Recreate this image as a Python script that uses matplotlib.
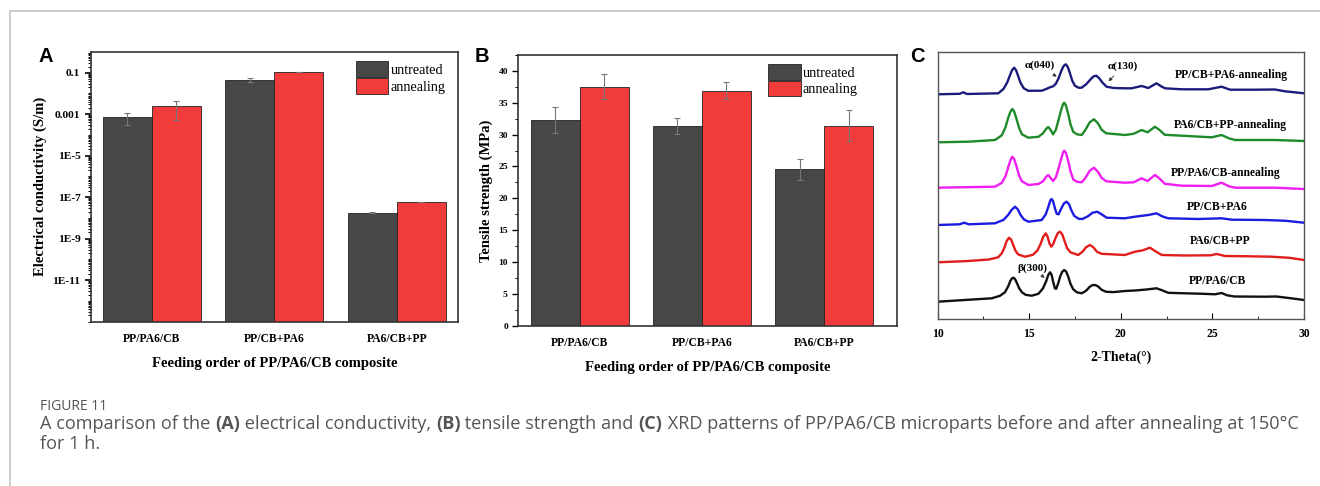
import numpy as np
import matplotlib
matplotlib.use("Agg")
import matplotlib.pyplot as plt
from matplotlib.lines import Line2D
from matplotlib.ticker import FixedLocator, MultipleLocator, NullFormatter

plt.rcParams['font.family'] = ['Liberation Serif', 'DejaVu Serif']

# ---- data ----
groups = ['PP/PA6/CB', 'PP/CB+PA6', 'PA6/CB+PP']
series = ['untreated', 'annealing']

cond_untreated = [7.0e-4, 0.047, 1.8e-8]
cond_annealing = [2.5e-3, 0.107, 5.8e-8]
cond_err_untreated = [4.0e-4, 0.010, 1.0e-9]
cond_err_annealing = [2.0e-3, 0.003, 1.5e-9]

ts_untreated = [32.3, 31.35, 24.55]
ts_annealing = [37.55, 36.9, 31.4]
ts_err_untreated = [2.0, 1.3, 1.7]
ts_err_annealing = [2.0, 1.3, 2.4]

# XRD patterns, stacked (a.u.)
xrd_names = ['PP/PA6/CB', 'PA6/CB+PP', 'PP/CB+PA6',
             'PP/PA6/CB-annealing', 'PA6/CB+PP-annealing', 'PP/CB+PA6-annealing']

xrd_black_x = [10, 12.95, 13.4, 13.67, 13.85, 13.97, 14.05, 14.13, 14.22, 14.32, 14.45, 14.6, 14.8,
               15.13, 15.5, 15.75, 15.92, 16.03, 16.13, 16.22, 16.31, 16.4, 16.47, 16.58, 16.7,
               16.8, 16.91, 17.02, 17.13, 17.25, 17.4, 17.6, 17.86, 18.1, 18.3, 18.45, 18.59,
               18.75, 18.95, 19.2, 19.6, 20.22, 20.77, 21.4, 21.95, 22.25, 22.59, 23.5, 24.5,
               25.14, 25.5, 25.8, 26.2, 27.87, 28.5, 29.3, 30]
xrd_black_y = [17.6, 21, 23.5, 27, 33, 38.5, 40.8, 41.6, 40.3, 36.5, 31, 27, 24.5,
               23.6, 25.5, 31, 38, 44, 47, 44.5, 37, 31, 30.5, 36, 43.5,
               47.5, 49.3, 47.5, 42.5, 35.5, 30, 27, 26, 28.5, 32.5, 34.2, 34.3,
               33, 29.5, 27.5, 27.2, 28.3, 28.8, 29.8, 31, 29, 26.5, 26, 25.5,
               25, 26.3, 24, 22.8, 22.6, 22.8, 21, 19.3]

xrd_red_x = [10, 11.67, 12.8, 13.3, 13.5, 13.65, 13.76, 13.89, 14.0, 14.12, 14.25, 14.4, 14.77,
             15.2, 15.45, 15.62, 15.76, 15.9, 16.0, 16.1, 16.2, 16.3, 16.45, 16.57, 16.68,
             16.8, 16.93, 17.07, 17.25, 17.67, 17.9, 18.1, 18.31, 18.5, 18.7, 18.95, 20.22,
             20.77, 21.2, 21.59, 21.85, 22.23, 23.5, 24.9, 25.23, 25.68, 27, 28.23, 29.2, 30]
xrd_red_y = [57, 58.3, 59.8, 62, 66, 72, 78, 81.6, 80, 74.5, 68.5, 64.8, 62.6,
             64.5, 69, 75.5, 82.5, 86, 82.5, 76, 72.6, 75, 82, 86.5, 87.6,
             85, 78, 71, 67, 64.3, 67.5, 72, 74.3, 72, 67.5, 65.5, 64.3,
             67.6, 69, 71.6, 68.5, 64.3, 63.8, 64, 65.3, 63.3, 63, 62.6, 61.5, 59.3]

xrd_blue_x = [10, 11.2, 11.45, 11.7, 13.13, 13.6, 13.85, 14.04, 14.22, 14.37, 14.52, 14.7, 14.95,
              15.68, 15.9, 16.05, 16.15, 16.22, 16.3, 16.4, 16.5, 16.6, 16.75, 16.9, 17.04,
              17.17, 17.3, 17.45, 17.7, 17.9, 18.2, 18.45, 18.71, 18.95, 19.22, 20.22, 20.77,
              21.5, 21.95, 22.25, 22.59, 24.23, 25.5, 26.05, 27.87, 29, 30]
xrd_blue_y = [94.3, 95, 96.6, 95, 96, 99.5, 104.5, 109.5, 112.6, 110, 104.5, 100, 97.6,
              99.3, 105, 113, 119, 120.3, 118, 111, 105.5, 105, 111, 116, 117.6,
              115, 109, 103.5, 100.5, 100.3, 103, 106.5, 107.6, 105, 101.6, 101, 102.6,
              104.3, 106, 103, 101, 100.3, 101, 99.6, 99.3, 98.5, 96.6]

xrd_magenta_x = [10, 13.13, 13.5, 13.7, 13.85, 13.97, 14.07, 14.17, 14.3, 14.45, 14.6, 14.95, 15.5,
                 15.75, 15.92, 16.04, 16.16, 16.3, 16.45, 16.6, 16.75, 16.85, 16.91, 17.0, 17.13,
                 17.25, 17.4, 17.6, 17.86, 18.05, 18.3, 18.53, 18.75, 18.95, 19.2, 20.22, 20.7,
                 21.13, 21.46, 21.86, 22.1, 22.4, 23.32, 24.96, 25.5, 25.9, 26.23, 28.41, 30]
xrd_magenta_y = [131.6, 132.6, 136.5, 143, 152, 159, 162.6, 160.5, 153, 143.5, 138, 134.3, 135.3,
                 138, 142.5, 144.3, 141.5, 138.3, 142, 151, 161, 167, 168.6, 166.5, 158,
                 148, 140, 137.5, 137, 141, 148.5, 151.6, 147.5, 141.5, 138, 136.6, 137,
                 141, 138.3, 144.3, 141, 135.5, 133.6, 133.3, 136.6, 133, 131.6, 131.6, 130.3]

xrd_green_x = [10, 11.67, 13.13, 13.5, 13.7, 13.85, 13.97, 14.07, 14.17, 14.3, 14.45, 14.6, 14.95,
               15.5, 15.75, 15.92, 16.04, 16.16, 16.3, 16.45, 16.6, 16.75, 16.85, 16.91, 17.0,
               17.13, 17.25, 17.4, 17.6, 17.86, 18.05, 18.3, 18.53, 18.75, 18.95, 19.2, 20.22,
               20.7, 21.13, 21.46, 21.86, 22.1, 22.4, 23.32, 24.96, 25.5, 25.9, 26.23, 28.41, 30]
xrd_green_y = [177, 177.6, 179.3, 184, 192, 201.5, 207.5, 210.3, 208, 200.5, 191, 185, 181.6,
               182.5, 186, 190.5, 192.3, 189.5, 185, 189.5, 199.5, 210, 215.5, 216.6, 214,
               205, 195, 187.5, 185, 184.3, 189, 197, 200, 196, 189.5, 186, 184.3,
               185.5, 189.3, 187, 192.6, 189.5, 184.5, 183.6, 182, 184.3, 181, 179.3, 179.3, 178.3]

xrd_navy_x = [10, 11.2, 11.4, 11.6, 13.31, 13.6, 13.8, 13.95, 14.07, 14.18, 14.28, 14.4, 14.52,
              14.7, 14.95, 15.68, 15.95, 16.13, 16.3, 16.45, 16.6, 16.75, 16.88, 16.99, 17.1,
              17.22, 17.35, 17.49, 17.7, 17.86, 18.1, 18.35, 18.5, 18.66, 18.82, 18.98, 19.22,
              19.6, 20.22, 20.59, 21.13, 21.5, 21.95, 22.2, 22.41, 23.32, 24.77, 25.5, 25.96,
              27.32, 28.41, 28.96, 30]
xrd_navy_y = [225, 225.5, 227, 225.3, 226, 230.5, 237, 244.3, 249.5, 251.6, 249, 243, 236.5,
              231, 228.5, 228.6, 230.5, 232, 233, 235.5, 241, 248.5, 253.5, 255, 252.5,
              246, 238.5, 233.6, 231.5, 231.6, 235, 240, 242.8, 243.6, 241, 237, 232.6,
              231.3, 231, 231, 233.3, 231.3, 236, 233, 231, 230, 230, 232.6, 229.6,
              229.6, 229.8, 228, 226]

xrd_label_pos = [(25.26, 38.6), (25.45, 78.6), (25.26, 112.6),
                 (25.72, 146.6), (25.96, 194.3), (26.01, 244.3)]

C_UNT = '#474747'
C_ANN = '#f23c3c'

fig = plt.figure(figsize=(13.2, 4.86), dpi=100)

# page frame
fig.add_artist(Line2D([10 / 1320, 1], [1 - 11 / 486] * 2, color='#c8c8c8', lw=1.3))
fig.add_artist(Line2D([10 / 1320] * 2, [0, 1 - 11 / 486], color='#c8c8c8', lw=1.3))

x = np.arange(1, 4)
w = 0.4

# ---- A: conductivity ----
axA = fig.add_axes([90.7 / 1320, 1 - 321.7 / 486, 367.3 / 1320, 269.7 / 486])
axA.set_yscale('log')
axA.bar(x - w / 2, cond_untreated, w, bottom=1e-13, color=C_UNT, edgecolor='#222222', lw=0.6,
        label=series[0])
axA.bar(x + w / 2, cond_annealing, w, bottom=1e-13, color=C_ANN, edgecolor='#222222', lw=0.6,
        label=series[1])
axA.errorbar(x - w / 2, cond_untreated, yerr=cond_err_untreated, fmt='none', ecolor='#777777',
             elinewidth=0.8, capsize=2.5, capthick=0.8)
axA.errorbar(x + w / 2, cond_annealing, yerr=cond_err_annealing, fmt='none', ecolor='#777777',
             elinewidth=0.8, capsize=2.5, capthick=0.8)
axA.set_ylim(1e-13, 1)
axA.set_xlim(0.5, 3.5)
axA.yaxis.set_major_locator(FixedLocator([1e-11, 1e-9, 1e-7, 1e-5, 1e-3, 1e-1]))
axA.set_yticklabels(['1E-11', '1E-9', '1E-7', '1E-5', '0.001', '0.1'])
minors = [m * 10.0 ** e for e in range(-13, 0) for m in range(1, 10)]
axA.yaxis.set_minor_locator(FixedLocator(minors))
axA.yaxis.set_minor_formatter(NullFormatter())
axA.tick_params(axis='y', which='major', direction='out', length=4, width=1.2, labelsize=8.2)
axA.tick_params(axis='y', which='minor', direction='out', length=2, width=0.7)
for lab in axA.get_yticklabels():
    lab.set_fontweight('bold')
axA.set_ylabel('Electrical conductivity (S/m)', fontsize=10.5, fontweight='bold', labelpad=4)

# ---- B: tensile strength ----
axB = fig.add_axes([518.3 / 1320, 1 - 325.7 / 486, 378.4 / 1320, 270.7 / 486])
axB.bar(x - w / 2, ts_untreated, w, color=C_UNT, edgecolor='#222222', lw=0.6, label=series[0])
axB.bar(x + w / 2, ts_annealing, w, color=C_ANN, edgecolor='#222222', lw=0.6, label=series[1])
axB.errorbar(x - w / 2, ts_untreated, yerr=ts_err_untreated, fmt='none', ecolor='#777777',
             elinewidth=0.8, capsize=2.5, capthick=0.8)
axB.errorbar(x + w / 2, ts_annealing, yerr=ts_err_annealing, fmt='none', ecolor='#777777',
             elinewidth=0.8, capsize=2.5, capthick=0.8)
axB.set_ylim(0, 42.5)
axB.set_xlim(0.5, 3.59)
axB.yaxis.set_major_locator(MultipleLocator(5))
axB.yaxis.set_minor_locator(MultipleLocator(2.5))
axB.tick_params(axis='y', which='major', direction='out', length=4, width=1.0, labelsize=6.8)
axB.tick_params(axis='y', which='minor', direction='out', length=2, width=0.7)
for lab in axB.get_yticklabels():
    lab.set_fontweight('bold')
axB.set_ylabel('Tensile strength (MPa)', fontsize=10.5, fontweight='bold', labelpad=4)

for ax, lx, ly in [(axA, 0.722, 0.965), (axB, 0.66, 0.967)]:
    ax.set_xticks(x)
    ax.set_xticklabels(groups, fontsize=8.4, fontweight='bold')
    ax.tick_params(axis='x', length=0, pad=8)
    ax.set_xlabel('Feeding order of PP/PA6/CB composite', fontsize=10.5, fontweight='bold',
                  labelpad=9)
    for s in ax.spines.values():
        s.set_linewidth(1.2)
        s.set_color('#333333')
    ax.legend(loc='upper left', bbox_to_anchor=(lx, ly), frameon=False, fontsize=10.2,
              handlelength=2.3, handleheight=1.35, handletextpad=0.15, labelspacing=0.05,
              borderpad=0, borderaxespad=0)

# ---- C: XRD ----
axC = fig.add_axes([937.7 / 1320, 1 - 319.3 / 486, 366.3 / 1320, 267.6 / 486])
xrd_data = [(xrd_black_x, xrd_black_y, '#111111'), (xrd_red_x, xrd_red_y, '#e31c1c'),
            (xrd_blue_x, xrd_blue_y, '#1c1ce0'), (xrd_magenta_x, xrd_magenta_y, '#f01ef0'),
            (xrd_green_x, xrd_green_y, '#1f8a2a'), (xrd_navy_x, xrd_navy_y, '#1b1b7a')]
for (xs, ys, col), name, (tx, ty) in zip(xrd_data, xrd_names, xrd_label_pos):
    axC.plot(xs, ys, color=col, lw=1.7, solid_joinstyle='round')
    axC.text(tx, ty, name, ha='center', va='center', fontsize=8.4, fontweight='bold')
axC.set_xlim(10, 30)
axC.set_ylim(0, 267.6)
axC.set_yticks([])
axC.xaxis.set_major_locator(MultipleLocator(5))
axC.xaxis.set_minor_locator(MultipleLocator(2.5))
axC.tick_params(axis='x', which='major', direction='in', length=4, labelsize=8.4, pad=6)
axC.tick_params(axis='x', which='minor', direction='in', length=2.5)
for lab in axC.get_xticklabels():
    lab.set_fontweight('bold')
axC.set_xlabel('2-Theta(°)', fontsize=10, fontweight='bold', labelpad=8)
for s in axC.spines.values():
    s.set_linewidth(1.0)
    s.set_color('#555555')

arrow = dict(arrowstyle='-|>', color='#333333', lw=0.6, mutation_scale=5)
axC.annotate('α(040)', xy=(16.62, 241), xytext=(15.58, 254), ha='center', va='center',
             fontsize=8, fontweight='bold', arrowprops=arrow)
axC.annotate('α(130)', xy=(19.22, 236), xytext=(20.13, 253), ha='center', va='center',
             fontsize=8, fontweight='bold', arrowprops=arrow)
axC.annotate('β(300)', xy=(15.95, 39.5), xytext=(15.19, 51.6), ha='center', va='center',
             fontsize=8, fontweight='bold', arrowprops=arrow)

# panel letters
for letter, px, py in [('A', 46, 57), ('B', 482, 57), ('C', 917, 56.5)]:
    fig.text(px / 1320, 1 - py / 486, letter, ha='center', va='center', fontsize=14.5,
             fontweight='bold', family='Liberation Sans')

# ---- caption ----
cap_font = dict(family='Open Sans', fontsize=13.1, color='#555555')
fig.text(40 / 1320, 1 - 406 / 486, 'FIGURE 11', family='Open Sans', fontsize=10,
         color='#555555', va='center')
fig.canvas.draw()
rend = fig.canvas.get_renderer()


def seg_width(s, weight):
    t = fig.text(0, 0, s + '|', fontweight=weight, **cap_font)
    wd = t.get_window_extent(rend).width
    t.set_text('|')
    wd -= t.get_window_extent(rend).width
    t.remove()
    return wd


caption1 = [('A comparison of the ', 'normal'), ('(A)', 'bold'),
            (' electrical conductivity, ', 'normal'), ('(B)', 'bold'),
            (' tensile strength and ', 'normal'), ('(C)', 'bold'),
            (' XRD patterns of PP/PA6/CB microparts before and after annealing at 150°C', 'normal')]
xpos = 40
for s, wt in caption1:
    fig.text(xpos / 1320, 1 - 424 / 486, s, fontweight=wt, va='center', **cap_font)
    xpos += seg_width(s, wt)
fig.text(40 / 1320, 1 - 444 / 486, 'for 1 h.', va='center', **cap_font)

fig.savefig('out.png', dpi=100)
